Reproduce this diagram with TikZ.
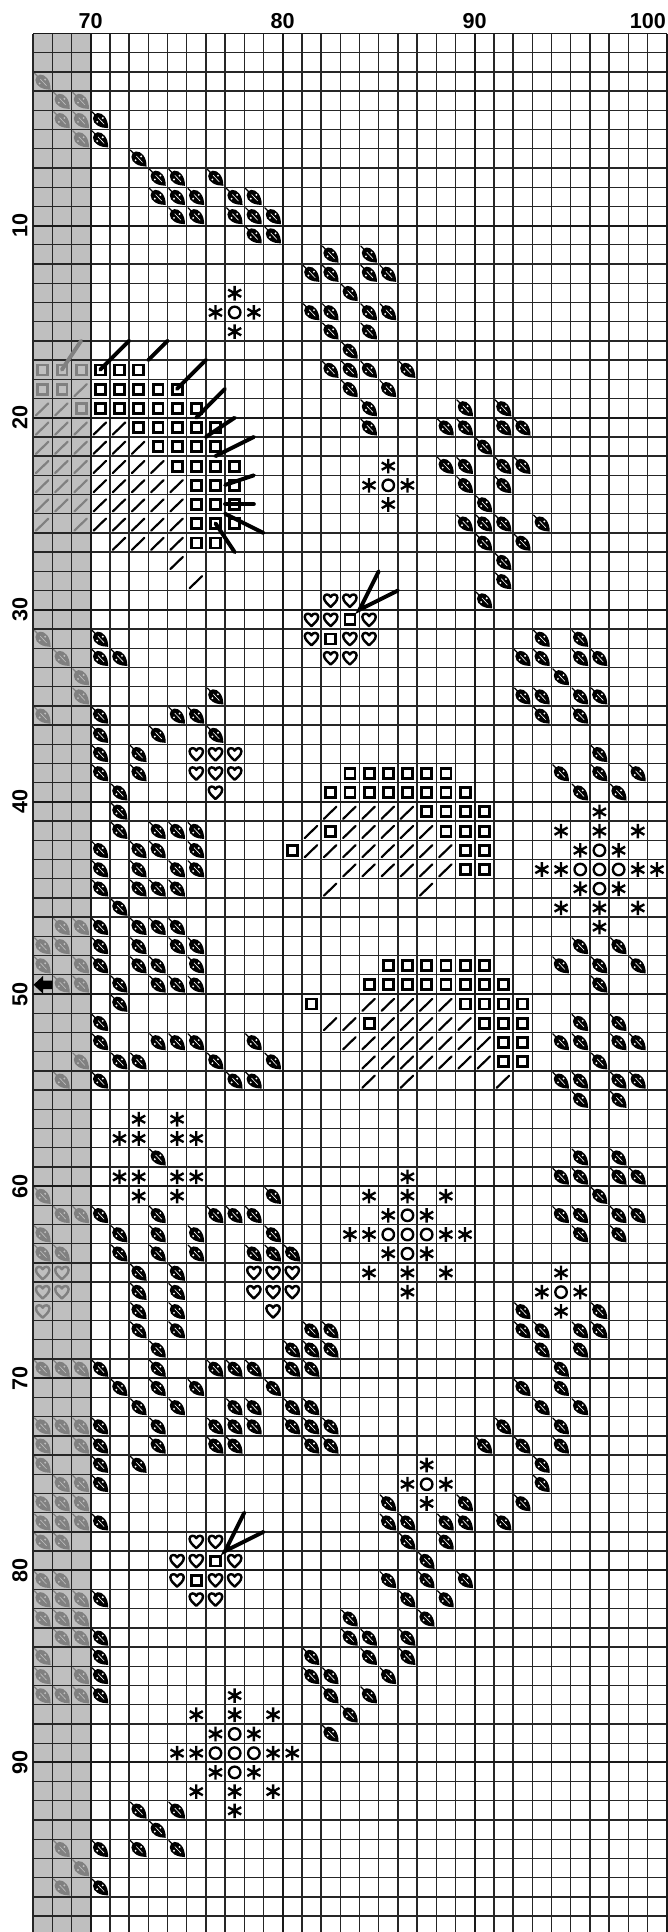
\documentclass[tikz,border=0pt]{standalone}
\usepackage{fontspec}
\setmainfont{Liberation Sans}
\usepackage{xcolor}
\usepackage{tikz}
\definecolor{kgrey}{HTML}{BFBFBF}
\colorlet{kmark}{black}
\colorlet{kvein}{white}
\newcommand{\markrows}[2]{\foreach \r/\cs in {#2}{\foreach \c in \cs {\pic at (\c,\r) {#1};}}}
\tikzset{
  gridthin/.style={black!85, line width=1pt},
  gridthick/.style={black!90, line width=1.35pt},
  numlabel/.style={font=\fontsize{16}{18}\selectfont\bfseries, inner sep=0pt},
  stitchline/.style={line width=2.9pt, line cap=round},
  leafmark/.pic={
    \fill[kmark] (0.36,0.14) .. controls (0.62,0.11) and (0.92,0.42) .. (0.91,0.93)
      .. controls (0.52,0.93) and (0.11,0.74) .. (0.12,0.42)
      .. controls (0.12,0.26) and (0.22,0.16) .. (0.36,0.14);
    \draw[kmark, line width=0.9pt, line cap=round] (0.07,0.07) -- (0.3,0.3);
    \draw[kvein, line width=0.45pt] (0.38,0.38) -- (0.7,0.72);
    \fill[kvein] (0.34,0.6) circle (0.055) (0.63,0.4) circle (0.055);
  },
  heartmark/.pic={
    \draw[kmark, line width=1.8pt, line join=round] (0.5,0.85)
      .. controls (0.35,0.7) and (0.15,0.56) .. (0.15,0.36)
      .. controls (0.15,0.17) and (0.42,0.14) .. (0.5,0.33)
      .. controls (0.58,0.14) and (0.85,0.17) .. (0.85,0.36)
      .. controls (0.85,0.56) and (0.65,0.7) .. (0.5,0.85) -- cycle;
  },
  squaremark/.pic={
    \draw[kmark, line width=2.1pt] (0.25,0.26) rectangle (0.77,0.78);
  },
  slashmark/.pic={
    \draw[kmark, line width=1.6pt, line cap=round] (0.15,0.88) -- (0.8,0.25);
  },
  circlemark/.pic={
    \draw[kmark, line width=1.75pt] (0.5,0.52) circle (0.3);
  },
  starmark/.pic={
    \draw[kmark, line width=1.75pt] (0.5,0.14) -- (0.5,0.9)
      (0.16,0.33) -- (0.84,0.71) (0.16,0.71) -- (0.84,0.33);
  },
}

\begin{document}
\begin{tikzpicture}[x=0.4997cm, y=-0.5cm]
\useasboundingbox (-1.724,-1.744) rectangle (33.07,98.83);
\fill[white] (-1.724,-1.744) rectangle (33.07,98.83);
\fill[kgrey] (0,0) rectangle (3,98.83);

% faded stitches on the repeat strip
\begin{scope}
\colorlet{kmark}{black!50}
\colorlet{kvein}{kgrey}
\markrows{leafmark}{2/{0},3/{1,2},4/{1,2},5/{2},31/{0},32/{1},33/{2},34/{2},35/{0},46/{1,2},47/{0,1},48/{0,2},49/{1,2},53/{2},54/{1},60/{0},61/{1,2},62/{0},63/{0,1},69/{0,1,2},72/{0,1,2},73/{0,2},74/{0},75/{1,2},76/{0,1,2},77/{0,1,2},78/{0,1},80/{0,1},81/{0,1,2},82/{0,1,2},83/{1,2},84/{0},85/{0,2},86/{0,1,2},94/{1},95/{2},96/{1}}
\markrows{heartmark}{64/{0,1},65/{0,1},66/{0}}
\markrows{squaremark}{17/{0,1,2},18/{0,1},19/{2}}
\markrows{slashmark}{18/{2},19/{0,1},20/{0,1,2},21/{0,1,2},22/{0,1,2},23/{0,1,2},24/{0,1,2},25/{0,2}}
\end{scope}

% grid
\foreach \c in {0,...,33} \draw[gridthin] (\c,0) -- (\c,98.83);
\foreach \r in {0,...,98} \draw[gridthin] (0,\r) -- (33,\r);
\foreach \c in {3,13,23,33} \draw[gridthick] (\c,0) -- (\c,98.83);
\foreach \r in {0,10,...,90} \draw[gridthick] (0,\r) -- (33,\r);

% stitches
\markrows{leafmark}{4/{3},5/{3},6/{5},7/{6,7,9},8/{6,7,8,10,11},9/{7,8,10,11,12},10/{11,12},11/{15,17},12/{14,15,17,18},13/{16},14/{14,15,17,18},15/{15,17},16/{16},17/{15,16,17,19},18/{16,18},19/{17,22,24},20/{17,21,22,24,25},21/{23},22/{21,22,24,25},23/{22,24},24/{23},25/{22,23,24,26},26/{23,25},27/{24},28/{24},29/{23},31/{3,26,28},32/{3,4,25,26,28,29},33/{27},34/{9,25,26,28,29},35/{3,7,8,26,28},36/{3,6,9},37/{3,5,29},38/{3,5,27,29,31},39/{4,28,30},40/{4},41/{4,6,7,8},42/{3,5,6,8},43/{3,5,7,8},44/{3,5,6,7},45/{4},46/{3,5,6,7},47/{3,5,7,8,28,30},48/{3,5,6,8,27,29,31},49/{4,6,7,8,29},50/{4},51/{3,28,30},52/{3,6,7,8,11,27,28,30,31},53/{4,5,9,12,29},54/{3,10,11,27,28,30,31},55/{28,30},58/{6,28,30},59/{27,28,30,31},60/{12,29},61/{3,6,9,10,11,27,28,30,31},62/{4,6,8,12,28,30},63/{4,6,8,11,12,13},64/{5,7},65/{5,7},66/{5,7,25,29},67/{5,7,14,15,25,26,28,29},68/{6,13,14,15,26,28},69/{3,6,9,10,11,13,14,27},70/{4,6,8,12,25,27},71/{5,7,10,11,13,14,26,28},72/{3,6,9,10,11,13,14,15,24,27},73/{3,6,9,10,14,15,23,25,27},74/{3,5,26},75/{3,26},76/{18,22,25},77/{3,18,19,21,22,24},78/{19,21},79/{20},80/{18,20,22},81/{3,19,21},82/{16,20},83/{3,16,17,19},84/{3,14,17,19},85/{3,14,15,18},86/{3,15,17},87/{16},88/{15},92/{5,7},93/{6},94/{3,5,7},96/{3}}
\markrows{heartmark}{29/{15,16},30/{14,15,17},31/{14,16,17},32/{15,16},37/{8,9,10},38/{8,9,10},39/{9},64/{11,12,13},65/{11,12,13},66/{12},78/{8,9},79/{7,8,10},80/{7,9,10},81/{8,9}}
\markrows{squaremark}{17/{3,4,5},18/{3,4,5,6,7},19/{3,4,5,6,7,8},20/{5,6,7,8,9},21/{6,7,8,9},22/{7,8,9,10},23/{8,9,10},24/{8,9,10},25/{8,9,10},26/{8,9},30/{16},31/{15},38/{16,17,18,19,20,21},39/{15,16,17,18,19,20,21,22},40/{20,21,22,23},41/{15,21,22,23},42/{13,22,23},43/{22,23},48/{18,19,20,21,22,23},49/{17,18,19,20,21,22,23,24},50/{14,22,23,24,25},51/{17,23,24,25},52/{24,25},53/{24,25},79/{9},80/{8}}
\markrows{slashmark}{20/{3,4},21/{3,4,5},22/{3,4,5,6},23/{3,4,5,6,7},24/{3,4,5,6,7},25/{3,4,5,6,7},26/{4,5,6,7},27/{7},28/{8},40/{15,16,17,18,19},41/{14,16,17,18,19,20},42/{14,15,16,17,18,19,20,21},43/{16,17,18,19,20,21},44/{15,20},50/{17,18,19,20,21},51/{15,16,18,19,20,21,22},52/{16,17,18,19,20,21,22,23},53/{17,18,19,20,21,22,23},54/{17,19,24}}
\markrows{starmark}{13/{10},14/{9,11},15/{10},22/{18},23/{17,19},24/{18},40/{29},41/{27,29,31},42/{28,30},43/{26,27,31,32},44/{28,30},45/{27,29,31},46/{29},56/{5,7},57/{4,5,7,8},59/{4,5,7,8,19},60/{5,7,17,19,21},61/{18,20},62/{16,17,21,22},63/{18,20},64/{17,19,21,27},65/{19,26,28},66/{27},74/{20},75/{19,21},76/{20},86/{10},87/{8,10,12},88/{9,11},89/{7,8,12,13},90/{9,11},91/{8,10,12},92/{10}}
\markrows{circlemark}{14/{10},23/{18},42/{29},43/{28,29,30},44/{29},61/{19},62/{18,19,20},63/{19},65/{27},75/{20},88/{10},89/{9,10,11},90/{10}}

% long stitches
\draw[stitchline, black!50] (1.5,17.5) -- (2.5,16);
\draw[stitchline] (3.5,17.5) -- (5,16);
\draw[stitchline] (6,17) -- (7,16);
\draw[stitchline] (7.5,18.5) -- (9,17);
\draw[stitchline] (8.5,20) -- (10,18.5);
\draw[stitchline] (9,21) -- (10.5,20);
\draw[stitchline] (9.5,22) -- (11.5,21);
\draw[stitchline] (10,23.5) -- (11.5,23);
\draw[stitchline] (10,24.5) -- (11.5,24.5);
\draw[stitchline] (10,25) -- (12,26);
\draw[stitchline] (9.5,25.5) -- (10.5,27);
\draw[stitchline] (18,28) -- (17,30) -- (19,29);
\draw[stitchline] (11,77) -- (10,79) -- (12,78);

% centre arrow
\fill (0.02,49.52) -- (0.52,49.06) -- (0.52,49.3) -- (1,49.3) -- (1,49.74) -- (0.52,49.74) -- (0.52,49.98) -- cycle;

% numbers
\node[numlabel] (col70) at (3,-0.65) {70};
\node[numlabel] (col80) at (13,-0.65) {80};
\node[numlabel] (col90) at (23,-0.65) {90};
\node[numlabel] (col100) at (32.02,-0.65) {100};
\foreach \n in {10,20,...,90}
  \node[numlabel, rotate=90] (row\n) at (-0.68,\n) {\n};
\end{tikzpicture}
\end{document}
